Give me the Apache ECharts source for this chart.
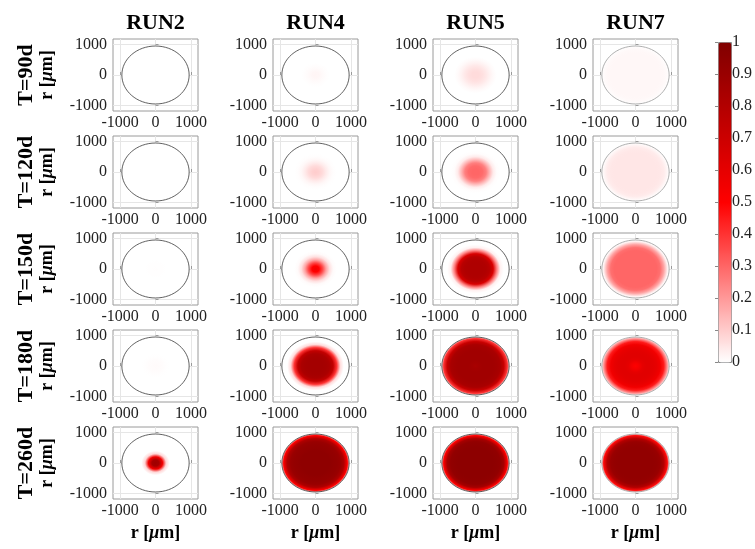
<!DOCTYPE html>
<html>
<head>
<meta charset="utf-8">
<script src="https://cdn.jsdelivr.net/npm/echarts@6/dist/echarts.min.js"></script>
<style>
  html, body { margin: 0; padding: 0; background: #fff; }
  #chart { width: 755px; height: 549px; }
</style>
</head>
<body>
<div id="chart"></div>
<script>
// columns / rows
const runs = ['RUN2', 'RUN4', 'RUN5', 'RUN7']
const times = ['T=90d', 'T=120d', 'T=150d', 'T=180d', 'T=260d']

// radial positions (um) at which the profiles are read
const radii = [0, 100, 200, 300, 400, 500, 600, 700, 800, 900, 950]
const axisTicks = [-1000, 0, 1000]

// normalised concentration vs radius, one row per time
const run2 = [
  [0, 0, 0, 0, 0, 0, 0, 0, 0, 0, 0],
  [0, 0, 0, 0, 0, 0, 0, 0, 0, 0, 0],
  [0.003, 0.002, 0.001, 0, 0, 0, 0, 0, 0, 0, 0],
  [0.01, 0.008, 0.005, 0.002, 0, 0, 0, 0, 0, 0, 0],
  [0.88, 0.85, 0.55, 0.08, 0, 0, 0, 0, 0, 0, 0]
]
const run4 = [
  [0.02, 0.018, 0.01, 0.004, 0, 0, 0, 0, 0, 0, 0],
  [0.1, 0.09, 0.07, 0.04, 0.015, 0.003, 0, 0, 0, 0, 0],
  [0.56, 0.5, 0.36, 0.18, 0.06, 0.01, 0, 0, 0, 0, 0],
  [0.86, 0.86, 0.86, 0.85, 0.83, 0.74, 0.4, 0.07, 0, 0, 0],
  [0.94, 0.94, 0.94, 0.94, 0.94, 0.93, 0.92, 0.9, 0.82, 0.5, 0.15]
]
const run5 = [
  [0.07, 0.07, 0.06, 0.045, 0.025, 0.01, 0, 0, 0, 0, 0],
  [0.3, 0.3, 0.29, 0.25, 0.14, 0.04, 0.005, 0, 0, 0, 0],
  [0.82, 0.82, 0.82, 0.81, 0.78, 0.65, 0.25, 0.03, 0, 0, 0],
  [0.84, 0.86, 0.87, 0.87, 0.87, 0.87, 0.86, 0.84, 0.72, 0.4, 0.1],
  [0.95, 0.95, 0.95, 0.95, 0.95, 0.95, 0.94, 0.93, 0.85, 0.5, 0.15]
]
const run7 = [
  [0.016, 0.016, 0.016, 0.016, 0.016, 0.016, 0.016, 0.016, 0.014, 0.008, 0],
  [0.05, 0.05, 0.05, 0.05, 0.05, 0.05, 0.05, 0.048, 0.04, 0.015, 0],
  [0.3, 0.3, 0.3, 0.3, 0.3, 0.3, 0.3, 0.28, 0.18, 0.03, 0],
  [0.5, 0.54, 0.6, 0.62, 0.62, 0.61, 0.59, 0.55, 0.45, 0.2, 0.05],
  [0.93, 0.93, 0.93, 0.93, 0.93, 0.93, 0.92, 0.9, 0.8, 0.48, 0.12]
]
const profiles = [run2, run4, run5, run7]
const outlineColors = ['#3a3a3a', '#3a3a3a', '#3a3a3a', '#9a9a9a']

// colormap: white -> red -> dark red
const cmapStops = ['#ffffff', '#ff0000', '#800000']
const FONT = 'Liberation Serif'

const hexToRgb = h => [1, 3, 5].map(i => parseInt(h.substr(i, 2), 16))
const cmap = (v) => {
  v = Math.max(0, Math.min(1, v))
  const seg = v <= 0.5 ? 0 : 1
  const t = seg === 0 ? v / 0.5 : (v - 0.5) / 0.5
  const a = hexToRgb(cmapStops[seg])
  const b = hexToRgb(cmapStops[seg + 1])
  const c = a.map((x, i) => Math.round(x + (b[i] - x) * t))
  return 'rgb(' + c.join(',') + ')'
}

// layout
const gLeft = 113, gTop = 39, gW = 85, gH = 72, colStep = 160, rowStep = 97
const R = radii[radii.length - 1]

const chart = echarts.init(document.getElementById('chart'))

const grids = [], xAxes = [], yAxes = [], series = [], graphics = []
const plain = v => String(v)

runs.forEach((run, c) => {
  times.forEach((t, r) => {
    const idx = grids.length
    grids.push({
      left: gLeft + c * colStep, top: gTop + r * rowStep, width: gW, height: gH,
      show: true, borderColor: '#9a9a9a', borderWidth: 1, backgroundColor: '#fff'
    })
    xAxes.push({
      gridIndex: idx, type: 'value', min: -1200, max: 1200,
      axisLine: { show: false },
      axisTick: { show: true, inside: true, length: 3, customValues: axisTicks, lineStyle: { color: '#9a9a9a' } },
      axisLabel: { customValues: axisTicks, formatter: plain, fontFamily: FONT, fontSize: 16, color: '#222', margin: 4 },
      splitLine: { show: true, lineStyle: { color: '#e6e6e6', width: 1 } }
    })
    yAxes.push({
      gridIndex: idx, type: 'value', min: -1180, max: 1180,
      axisLine: { show: false },
      axisTick: { show: true, inside: true, length: 3, customValues: axisTicks, lineStyle: { color: '#9a9a9a' } },
      axisLabel: { customValues: axisTicks, formatter: plain, fontFamily: FONT, fontSize: 16, color: '#222', margin: 6 },
      splitLine: { show: true, lineStyle: { color: '#e6e6e6', width: 1 } }
    })
    series.push({
      type: 'custom',
      xAxisIndex: idx,
      yAxisIndex: idx,
      silent: true,
      data: [[0, 0]],
      renderItem: (params, api) => {
        const p = api.coord([api.value(0), api.value(1)])
        const s = api.size([R, R])
        const prof = profiles[c][r]
        const stops = radii.map((rr, i) => ({ offset: rr / R, color: cmap(prof[i]) }))
        return {
          type: 'group',
          children: [
            {
              type: 'circle',
              shape: { cx: 0, cy: 0, r: 100 },
              x: p[0], y: p[1], scaleX: s[0] / 100, scaleY: s[1] / 100,
              style: { fill: new echarts.graphic.RadialGradient(0.5, 0.5, 0.5, stops), stroke: null }
            },
            {
              type: 'ellipse',
              shape: { cx: p[0], cy: p[1], rx: s[0], ry: s[1] },
              style: { fill: null, stroke: outlineColors[c], lineWidth: 0.8 }
            }
          ]
        }
      }
    })
  })
})

// colorbar ticks
const cbIdx = grids.length
grids.push({ left: 718, top: 42, width: 13, height: 320, show: false })
xAxes.push({ gridIndex: cbIdx, type: 'value', show: false })
yAxes.push({
  gridIndex: cbIdx, type: 'value', position: 'right', min: 0, max: 1, interval: 0.1,
  axisLine: { show: false },
  axisTick: { show: true, inside: true, length: 3, lineStyle: { color: '#888' } },
  axisLabel: { fontFamily: FONT, fontSize: 16, color: '#222', margin: 4 },
  splitLine: { show: false }
})

// titles and row labels
runs.forEach((run, c) => {
  const cx = gLeft + c * colStep + gW / 2
  graphics.push({
    type: 'text', x: cx, y: 23,
    style: { text: run, font: 'bold 22px ' + FONT, fill: '#000', align: 'center', verticalAlign: 'middle' }
  })
  graphics.push({
    type: 'text', x: cx, y: 533,
    style: {
      text: '{a|r [}{b|μ}{a|m]}', align: 'center', verticalAlign: 'middle',
      rich: {
        a: { font: 'bold 18px ' + FONT, fill: '#000' },
        b: { font: 'italic bold 18px ' + FONT, fill: '#000' }
      }
    }
  })
})
times.forEach((t, r) => {
  const cy = gTop + r * rowStep + gH / 2
  graphics.push({
    type: 'text', x: 26, y: cy, rotation: Math.PI / 2,
    style: { text: t, font: 'bold 22px ' + FONT, fill: '#000', align: 'center', verticalAlign: 'middle' }
  })
  graphics.push({
    type: 'text', x: 47, y: cy, rotation: Math.PI / 2,
    style: {
      text: '{a|r [}{b|μ}{a|m]}', align: 'center', verticalAlign: 'middle',
      rich: {
        a: { font: 'bold 18px ' + FONT, fill: '#000' },
        b: { font: 'italic bold 18px ' + FONT, fill: '#000' }
      }
    }
  })
})

const option = {
  animation: false,
  grid: grids,
  xAxis: xAxes,
  yAxis: yAxes,
  visualMap: {
    type: 'continuous',
    min: 0, max: 1,
    calculable: false,
    hoverLink: false,
    orient: 'vertical',
    left: 718, top: 42,
    itemWidth: 13, itemHeight: 320,
    padding: 0,
    borderColor: '#888', borderWidth: 1,
    seriesIndex: [],
    inRange: { color: cmapStops }
  },
  graphic: graphics,
  series: series
}

chart.setOption(option)
</script>
</body>
</html>
